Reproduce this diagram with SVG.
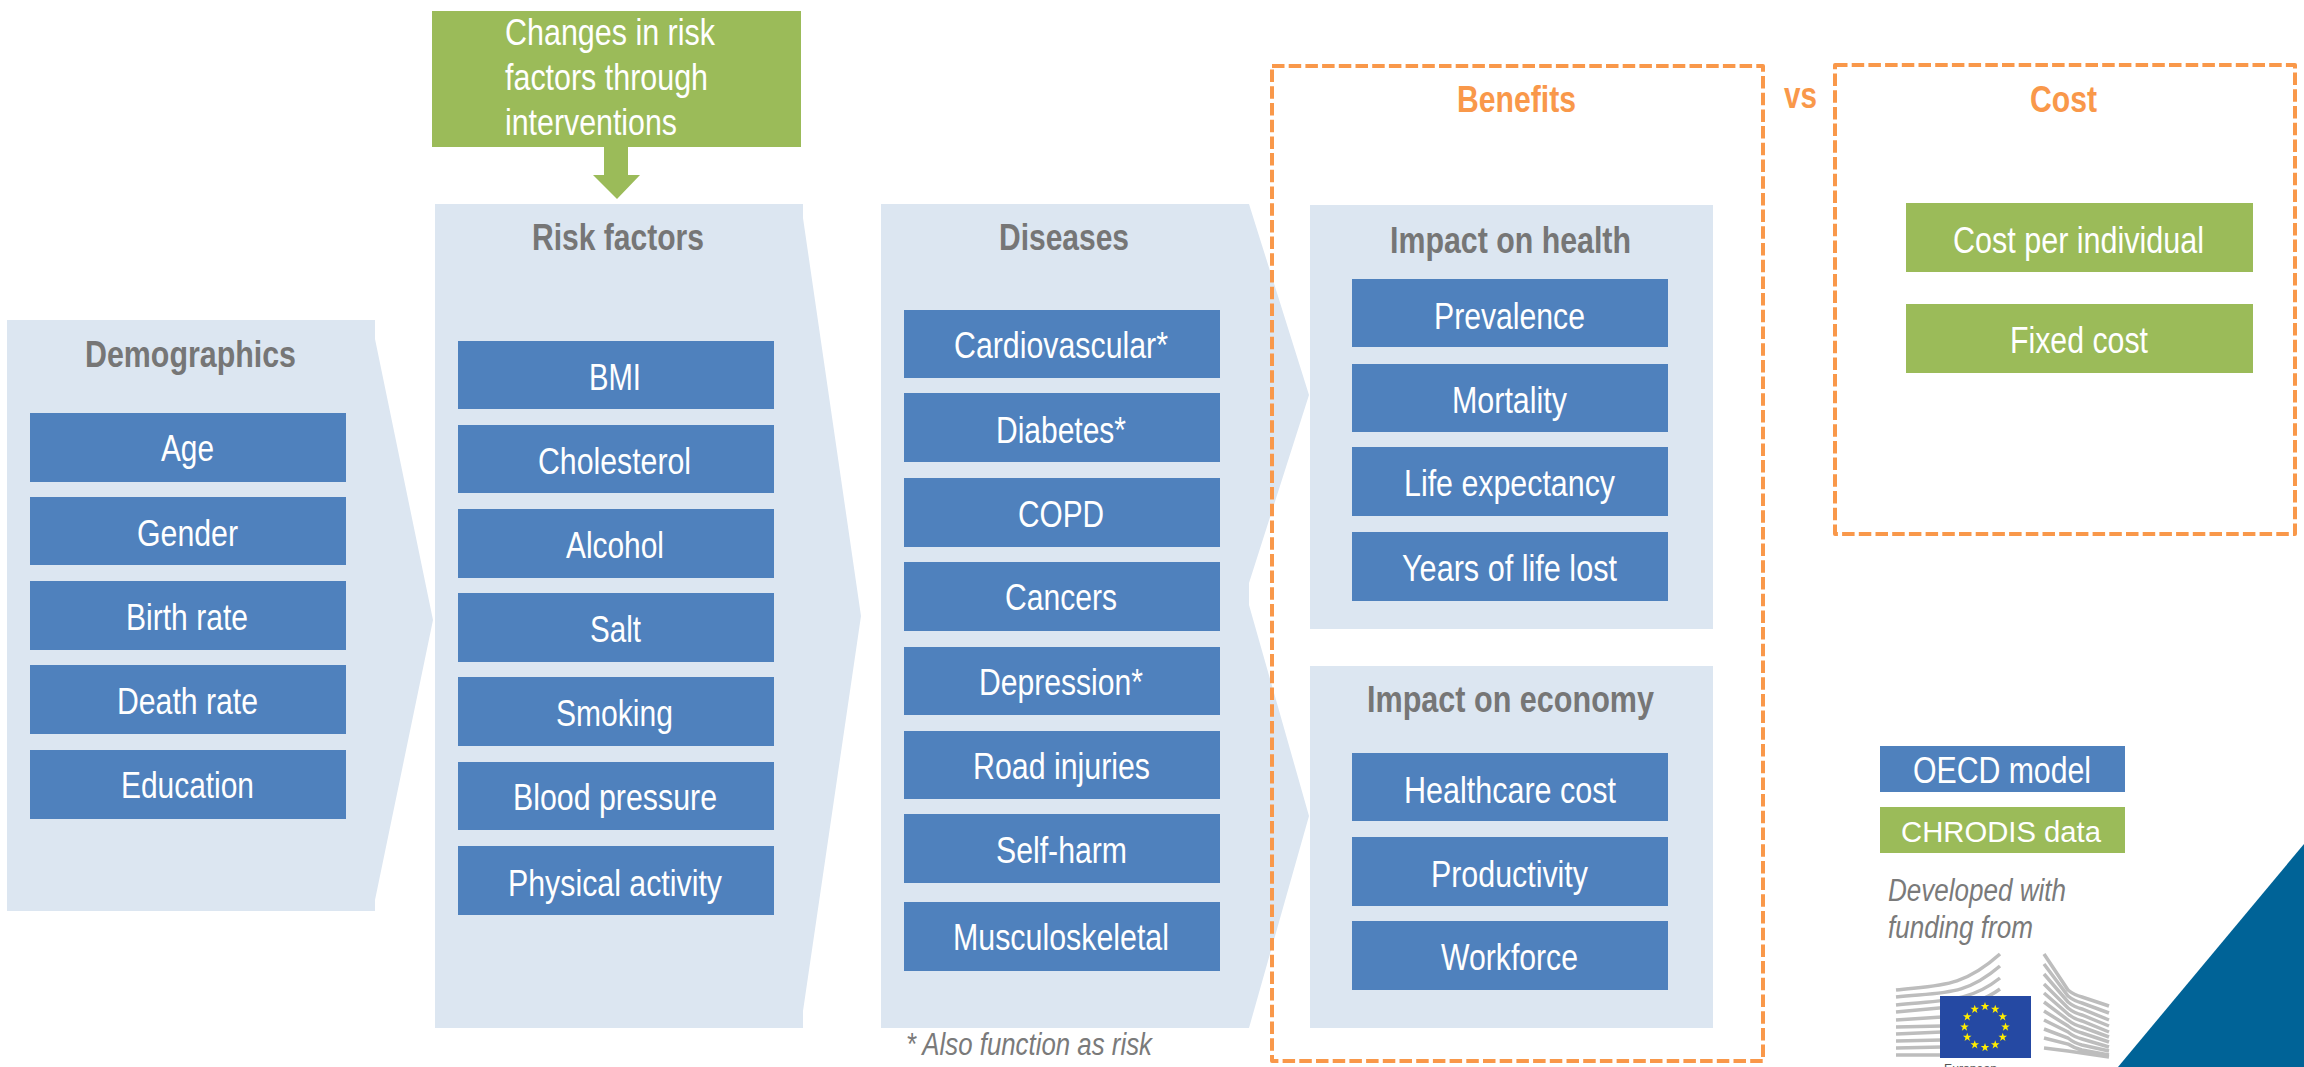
<svg xmlns="http://www.w3.org/2000/svg" xmlns:xlink="http://www.w3.org/1999/xlink" width="2304" height="1067" viewBox="0 0 2304 1067">
<defs>
<style>
text{font-family:"Liberation Sans",Arial,sans-serif;transform:translate(-1px,1px)}
.panel{fill:#dce6f1}
.blue{fill:#4f81bd}
.green{fill:#9bbb59}
.t{font-size:36px;fill:#fff}
.h{font-size:36px;font-weight:bold;fill:#767676}
.o{font-size:36px;font-weight:bold;fill:#f9984a}
.note{font-size:31px;font-style:italic;fill:#7a7a7a}
.dash{fill:none;stroke:#f9984a;stroke-width:4;stroke-dasharray:12.5 4.2;stroke-linejoin:round}
.bld{fill:none;stroke:#bdbdbd;stroke-width:3.5}
</style>
<polygon id="star" fill="#ffed00" points="0,-4.5 1.06,-1.46 4.28,-1.39 1.71,.56 2.65,3.64 0,1.8 -2.65,3.64 -1.71,.56 -4.28,-1.39 -1.06,-1.46"/>
</defs>
<rect width="2304" height="1067" fill="#fff"/>

<polygon id="corner-triangle" fill="#006397" points="2304,844 2304,1067 2118,1067"/>

<g id="demographics">
<polygon class="panel" points="7,320 375,320 375,339 433,620 375,900 375,911 7,911"/>
<text class="h" x="86" y="366" textLength="211" lengthAdjust="spacingAndGlyphs">Demographics</text>
<rect class="blue" x="30" y="413" width="316" height="69"/><text class="t" x="162" y="460" textLength="53" lengthAdjust="spacingAndGlyphs">Age</text>
<rect class="blue" x="30" y="497" width="316" height="68"/><text class="t" x="138" y="545" textLength="101" lengthAdjust="spacingAndGlyphs">Gender</text>
<rect class="blue" x="30" y="581" width="316" height="69"/><text class="t" x="127" y="629" textLength="122" lengthAdjust="spacingAndGlyphs">Birth rate</text>
<rect class="blue" x="30" y="665" width="316" height="69"/><text class="t" x="118" y="713" textLength="141" lengthAdjust="spacingAndGlyphs">Death rate</text>
<rect class="blue" x="30" y="750" width="316" height="69"/><text class="t" x="122" y="797" textLength="133" lengthAdjust="spacingAndGlyphs">Education</text>
</g>

<g id="risk-factors">
<polygon class="panel" points="435,204 803,204 803,218 861,616 803,1011 803,1028 435,1028"/>
<text class="h" x="533" y="249" textLength="172" lengthAdjust="spacingAndGlyphs">Risk factors</text>
<rect class="blue" x="458" y="341" width="316" height="68"/><text class="t" x="590" y="389" textLength="52" lengthAdjust="spacingAndGlyphs">BMI</text>
<rect class="blue" x="458" y="425" width="316" height="68"/><text class="t" x="539" y="473" textLength="153" lengthAdjust="spacingAndGlyphs">Cholesterol</text>
<rect class="blue" x="458" y="509" width="316" height="69"/><text class="t" x="567" y="557" textLength="98" lengthAdjust="spacingAndGlyphs">Alcohol</text>
<rect class="blue" x="458" y="593" width="316" height="69"/><text class="t" x="591" y="641" textLength="51" lengthAdjust="spacingAndGlyphs">Salt</text>
<rect class="blue" x="458" y="677" width="316" height="69"/><text class="t" x="557" y="725" textLength="117" lengthAdjust="spacingAndGlyphs">Smoking</text>
<rect class="blue" x="458" y="762" width="316" height="68"/><text class="t" x="514" y="809" textLength="204" lengthAdjust="spacingAndGlyphs">Blood pressure</text>
<rect class="blue" x="458" y="846" width="316" height="69"/><text class="t" x="509" y="895" textLength="214" lengthAdjust="spacingAndGlyphs">Physical activity</text>
</g>

<g id="interventions">
<rect class="green" x="432" y="11" width="369" height="136"/>
<text class="t" x="506" y="44" textLength="210" lengthAdjust="spacingAndGlyphs">Changes in risk</text>
<text class="t" x="506" y="89" textLength="203" lengthAdjust="spacingAndGlyphs">factors through</text>
<text class="t" x="506" y="134" textLength="172" lengthAdjust="spacingAndGlyphs">interventions</text>
</g>

<g id="connectors">
<polygon class="green" points="604,147 628,147 628,175 640,175 617,199 593,175 604,175"/>
</g>

<g id="diseases">
<polygon class="panel" points="881,204 1249,204 1309,395 1249,583 1249,605 1309,816 1249,1028 881,1028"/>
<text class="h" x="1000" y="249" textLength="130" lengthAdjust="spacingAndGlyphs">Diseases</text>
<rect class="blue" x="904" y="310" width="316" height="68"/><text class="t" x="955" y="357" textLength="214" lengthAdjust="spacingAndGlyphs">Cardiovascular*</text>
<rect class="blue" x="904" y="393" width="316" height="69"/><text class="t" x="997" y="442" textLength="130" lengthAdjust="spacingAndGlyphs">Diabetes*</text>
<rect class="blue" x="904" y="478" width="316" height="69"/><text class="t" x="1019" y="526" textLength="86" lengthAdjust="spacingAndGlyphs">COPD</text>
<rect class="blue" x="904" y="562" width="316" height="69"/><text class="t" x="1006" y="609" textLength="112" lengthAdjust="spacingAndGlyphs">Cancers</text>
<rect class="blue" x="904" y="647" width="316" height="68"/><text class="t" x="980" y="694" textLength="164" lengthAdjust="spacingAndGlyphs">Depression*</text>
<rect class="blue" x="904" y="731" width="316" height="68"/><text class="t" x="974" y="778" textLength="177" lengthAdjust="spacingAndGlyphs">Road injuries</text>
<rect class="blue" x="904" y="814" width="316" height="69"/><text class="t" x="997" y="862" textLength="131" lengthAdjust="spacingAndGlyphs">Self-harm</text>
<rect class="blue" x="904" y="902" width="316" height="69"/><text class="t" x="954" y="949" textLength="216" lengthAdjust="spacingAndGlyphs">Musculoskeletal</text>
</g>
<text id="footnote" class="note" x="907" y="1054" textLength="246" lengthAdjust="spacingAndGlyphs">* Also function as risk</text>

<g id="benefits">
<rect class="dash" x="1272" y="66" width="491" height="995"/>
<text class="o" x="1458" y="111" textLength="119" lengthAdjust="spacingAndGlyphs">Benefits</text>
</g>

<g id="impact-health">
<rect class="panel" x="1310" y="205" width="403" height="424"/>
<text class="h" x="1391" y="252" textLength="241" lengthAdjust="spacingAndGlyphs">Impact on health</text>
<rect class="blue" x="1352" y="279" width="316" height="68"/><text class="t" x="1435" y="328" textLength="151" lengthAdjust="spacingAndGlyphs">Prevalence</text>
<rect class="blue" x="1352" y="364" width="316" height="68"/><text class="t" x="1453" y="412" textLength="115" lengthAdjust="spacingAndGlyphs">Mortality</text>
<rect class="blue" x="1352" y="447" width="316" height="69"/><text class="t" x="1405" y="495" textLength="211" lengthAdjust="spacingAndGlyphs">Life expectancy</text>
<rect class="blue" x="1352" y="532" width="316" height="69"/><text class="t" x="1403" y="580" textLength="215" lengthAdjust="spacingAndGlyphs">Years of life lost</text>
</g>

<g id="impact-economy">
<rect class="panel" x="1310" y="666" width="403" height="362"/>
<text class="h" x="1368" y="711" textLength="287" lengthAdjust="spacingAndGlyphs">Impact on economy</text>
<rect class="blue" x="1352" y="753" width="316" height="68"/><text class="t" x="1405" y="802" textLength="212" lengthAdjust="spacingAndGlyphs">Healthcare cost</text>
<rect class="blue" x="1352" y="837" width="316" height="69"/><text class="t" x="1432" y="886" textLength="157" lengthAdjust="spacingAndGlyphs">Productivity</text>
<rect class="blue" x="1352" y="921" width="316" height="69"/><text class="t" x="1442" y="969" textLength="137" lengthAdjust="spacingAndGlyphs">Workforce</text>
</g>

<text id="vs" class="o" x="1785" y="107" textLength="33" lengthAdjust="spacingAndGlyphs">vs</text>

<g id="cost">
<rect class="dash" x="1835" y="65" width="460" height="469"/>
<text class="o" x="2031" y="111" textLength="67" lengthAdjust="spacingAndGlyphs">Cost</text>
<rect class="green" x="1906" y="203" width="347" height="69"/><text class="t" x="1954" y="252" textLength="251" lengthAdjust="spacingAndGlyphs">Cost per individual</text>
<rect class="green" x="1906" y="304" width="347" height="69"/><text class="t" x="2011" y="352" textLength="138" lengthAdjust="spacingAndGlyphs">Fixed cost</text>
</g>

<g id="legend">
<rect class="blue" x="1880" y="746" width="245" height="46"/><text class="t" x="1914" y="782" textLength="178" lengthAdjust="spacingAndGlyphs">OECD model</text>
<rect class="green" x="1880" y="807" width="245" height="46"/><text class="t" x="1902" y="841" style="font-size:29px" textLength="200" lengthAdjust="spacingAndGlyphs">CHRODIS data</text>
</g>

<g id="funding">
<text class="note" x="1889" y="900" textLength="178" lengthAdjust="spacingAndGlyphs">Developed with</text>
<text class="note" x="1889" y="937" textLength="145" lengthAdjust="spacingAndGlyphs">funding from</text>
</g>

<g id="eu-logo">
<path class="bld" d="M1896 990C1940 985 1962 988 2000 954M1896 997C1945 992 1965 996 2000 966M1896 1005C1945 1000 1970 1002 2000 978M1896 1012L1950 1007C1970 1005 1985 1000 2000 989M1896 1020L1942 1017M1896 1027L1942 1026M1896 1034L1942 1032M1896 1041L1942 1040M1896 1048L1942 1047M1896 1055L1942 1055"/>
<path class="bld" d="M2044 954L2068 990Q2074 995 2082 997L2109 1006M2044 964L2068 996Q2074 1001 2082 1003L2109 1013M2044 974L2068 1002Q2074 1007 2082 1009L2109 1020M2044 984L2068 1008Q2074 1013 2082 1015L2109 1026M2044 993L2068 1014Q2074 1019 2082 1021L2109 1032M2044 1002L2068 1020Q2074 1025 2082 1027L2109 1037M2044 1011L2068 1026Q2074 1031 2082 1033L2109 1042M2044 1020L2068 1032Q2074 1037 2082 1039L2109 1047M2044 1029L2068 1038Q2074 1043 2082 1045L2109 1051M2044 1038L2068 1044Q2074 1048 2082 1050L2109 1055M2044 1048L2068 1051L2109 1057"/>
<rect x="1940" y="996" width="91" height="62" fill="#2549a3"/>
<use xlink:href="#star" x="1985" y="1006.5"/><use xlink:href="#star" x="1995.25" y="1009.25"/><use xlink:href="#star" x="2002.75" y="1016.75"/><use xlink:href="#star" x="2005.5" y="1027"/><use xlink:href="#star" x="2002.75" y="1037.25"/><use xlink:href="#star" x="1995.25" y="1044.75"/><use xlink:href="#star" x="1985" y="1047.5"/><use xlink:href="#star" x="1974.75" y="1044.75"/><use xlink:href="#star" x="1967.25" y="1037.25"/><use xlink:href="#star" x="1964.5" y="1027"/><use xlink:href="#star" x="1967.25" y="1016.75"/><use xlink:href="#star" x="1974.75" y="1009.25"/>
<text x="1945" y="1072" style="font-size:12.5px;fill:#555" textLength="53" lengthAdjust="spacingAndGlyphs">European</text>
</g>
</svg>
